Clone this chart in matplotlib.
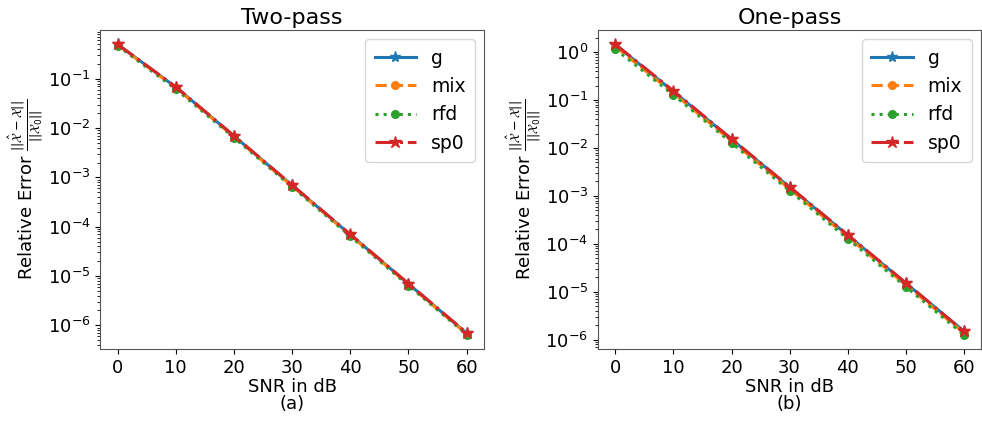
import matplotlib
matplotlib.use("Agg")
import matplotlib.pyplot as plt

snr_db = [0, 10, 20, 30, 40, 50, 60]

# Two-pass relative errors
two_g = [0.50, 0.068, 0.0069, 6.9e-4, 6.9e-5, 6.9e-6, 6.9e-7]
two_mix = [0.49, 0.066, 0.0067, 6.7e-4, 6.7e-5, 6.7e-6, 6.7e-7]
two_rfd = [0.47, 0.062, 0.0064, 6.4e-4, 6.4e-5, 6.4e-6, 6.5e-7]
two_sp0 = [0.50, 0.069, 0.0070, 7.0e-4, 7.0e-5, 7.0e-6, 7.0e-7]

# One-pass relative errors
one_g = [1.42, 0.150, 0.0152, 1.52e-3, 1.52e-4, 1.52e-5, 1.52e-6]
one_mix = [1.30, 0.138, 0.0140, 1.40e-3, 1.40e-4, 1.40e-5, 1.40e-6]
one_rfd = [1.15, 0.128, 0.0128, 1.28e-3, 1.28e-4, 1.28e-5, 1.28e-6]
one_sp0 = [1.45, 0.155, 0.0155, 1.55e-3, 1.55e-4, 1.55e-5, 1.50e-6]

# Decade ticks on each panel's y axis
two_yticks = [1e-6, 1e-5, 1e-4, 1e-3, 1e-2, 1e-1]
one_yticks = [1e-6, 1e-5, 1e-4, 1e-3, 1e-2, 1e-1, 1e0]

series_names = ["g", "mix", "rfd", "sp0"]
colors = ["#1f77b4", "#ff7f0e", "#2ca02c", "#d62728"]
styles = ["-", "--", ":", "-."]
markers = ["*", "o", "o", "*"]
msizes = [8, 5.5, 5.5, 9]

panels = [
    ("Two-pass", "(a)", [two_g, two_mix, two_rfd, two_sp0], two_yticks),
    ("One-pass", "(b)", [one_g, one_mix, one_rfd, one_sp0], one_yticks),
]

fig = plt.figure(figsize=(9.82, 4.21), dpi=100)
axes_pos = [[0.102, 0.171, 0.391, 0.758], [0.609, 0.171, 0.390, 0.758]]
ylabel = r"Relative Error $\frac{||\hat{\mathcal{X}} - \mathcal{X}||}{||\mathcal{X}_0||}$"

for pos, (title, tag, data, yticks) in zip(axes_pos, panels):
    ax = fig.add_axes(pos)
    for name, vals, c, ls, mk, ms in zip(series_names, data, colors, styles, markers, msizes):
        ax.plot(snr_db, vals, color=c, linestyle=ls, marker=mk, markersize=ms,
                linewidth=2.2, label=name)
    ax.set_yscale("log")
    ax.set_yticks(yticks)
    ax.set_xticks(snr_db)
    ax.tick_params(labelsize=13)
    ax.set_title(title, fontsize=16, pad=4)
    ax.set_xlabel("SNR in dB", fontsize=13, labelpad=1)
    ax.set_ylabel(ylabel, fontsize=13, labelpad=2)
    ax.legend(loc="upper right", fontsize=13.5, handlelength=2.2, borderpad=0.5)
    for s in ax.spines.values():
        s.set_color("#555555")
    # sub-figure tag under the x label
    fig.text(pos[0] + pos[2] / 2, 8 / 421, tag, ha="center", va="bottom", fontsize=13)

fig.savefig("out.png", dpi=100)
